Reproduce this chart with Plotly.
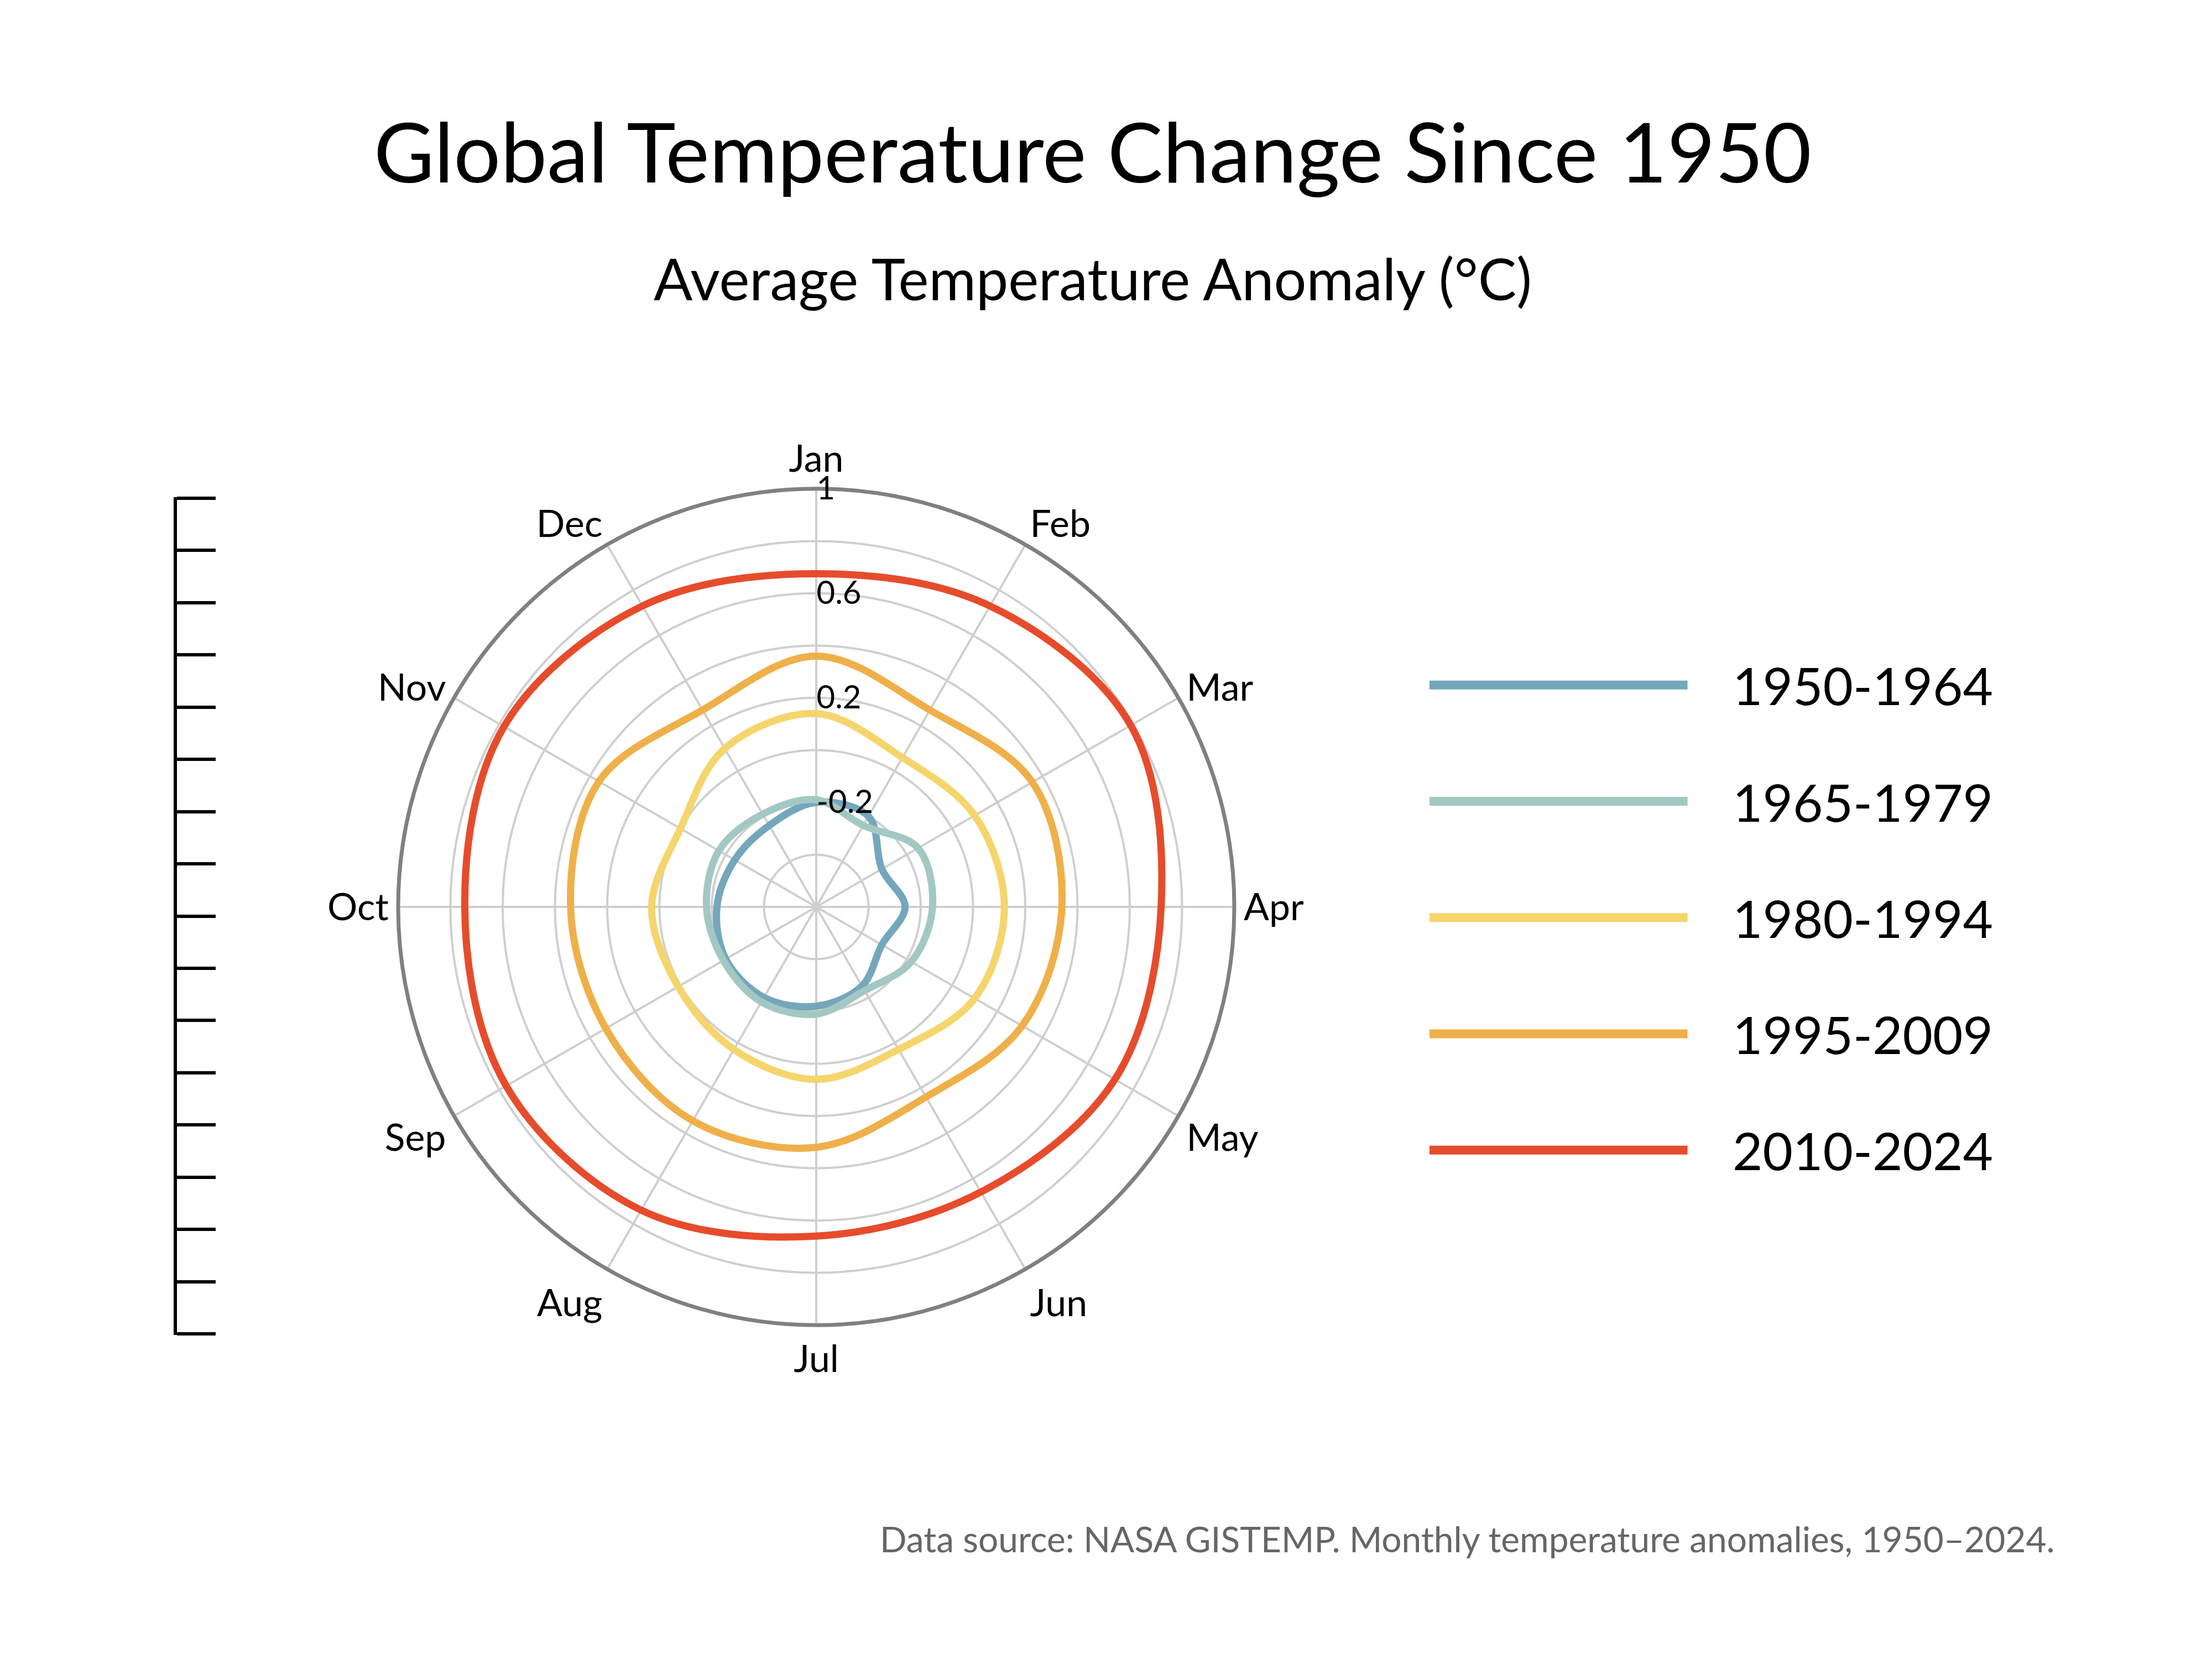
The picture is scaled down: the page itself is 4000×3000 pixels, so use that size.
import plotly.graph_objects as go

months = ["Jan", "Feb", "Mar", "Apr", "May", "Jun", "Jul", "Aug", "Sep", "Oct", "Nov", "Dec"]
periods = ["1950-1964", "1965-1979", "1980-1994", "1995-2009", "2010-2024"]
colors = ["#74a7bb", "#a3c8c4", "#f5d56c", "#efb04a", "#e64c2c"]

anom_1950 = [-0.20, -0.20, -0.31, -0.26, -0.31, -0.25, -0.22, -0.20, -0.20, -0.22, -0.24, -0.24]
anom_1965 = [-0.19, -0.24, -0.15, -0.155, -0.18, -0.23, -0.19, -0.18, -0.19, -0.18, -0.17, -0.19]
anom_1980 = [0.14, 0.06, 0.10, 0.12, 0.10, 0.03, 0.06, 0.03, 0.01, 0.03, 0.00, 0.10]
anom_1995 = [0.36, 0.27, 0.355, 0.34, 0.31, 0.24, 0.32, 0.345, 0.33, 0.34, 0.36, 0.27]
anom_2010 = [0.675, 0.73, 0.79, 0.72, 0.72, 0.66, 0.66, 0.74, 0.77, 0.745, 0.78, 0.73]
series = [anom_1950, anom_1965, anom_1980, anom_1995, anom_2010]

radial_vals = [-0.6, -0.4, -0.2, 0, 0.2, 0.4, 0.6, 0.8, 1.0]
radial_text = ["", "", "-0.2", "", "0.2", "", "0.6", "", "1"]

FONT = "Lato"
fig = go.Figure()

for name, vals, col in zip(periods, series, colors):
    fig.add_trace(go.Scatterpolar(
        r=vals + vals[:1], theta=months + months[:1], mode="lines",
        line=dict(color=col, width=13, shape="spline"), name=name, showlegend=False))

# leftover bare axis on the left
fig.add_trace(go.Scatter(x=[0], y=[0], mode="markers", marker=dict(opacity=0),
                         showlegend=False, hoverinfo="skip"))

fig.update_layout(
    width=4000, height=3000,
    paper_bgcolor="white", plot_bgcolor="white",
    font=dict(family=FONT, color="black"),
    margin=dict(l=0, r=0, t=0, b=0),
    polar=dict(
        domain=dict(x=[0.178, 0.556], y=[0.204, 0.708]),
        bgcolor="white",
        angularaxis=dict(rotation=90, direction="clockwise", categoryorder="array",
                         categoryarray=months, linecolor="#808080", linewidth=7,
                         gridcolor="#cfcfcf", gridwidth=4, ticks="",
                         tickfont=dict(size=68, family=FONT)),
        radialaxis=dict(range=[-0.6, 1.0], tickvals=radial_vals, ticktext=radial_text,
                        angle=90, tickangle=90, showline=False, ticks="",
                        gridcolor="#cfcfcf", gridwidth=4,
                        tickfont=dict(size=58, family=FONT)),
    ),
    xaxis=dict(domain=[0.078, 0.1], visible=False, range=[0, 1]),
    yaxis=dict(domain=[0.198, 0.703], range=[-0.02, 16.02], tick0=0, dtick=1, showline=True,
               linecolor="black", linewidth=6, ticks="inside", ticklen=70,
               tickwidth=6, tickcolor="black", showticklabels=False,
               showgrid=False, zeroline=False),
)

fig.add_annotation(text="Global Temperature Change Since 1950", x=0.492, y=1 - 103 / 1170,
                   xref="paper", yref="paper", yanchor="middle", showarrow=False,
                   font=dict(size=150))
fig.add_annotation(text="Average Temperature Anomaly (°C)", x=0.492, y=1 - 193 / 1170,
                   xref="paper", yref="paper", yanchor="middle", showarrow=False,
                   font=dict(size=104))
fig.add_annotation(text="Data source: NASA GISTEMP. Monthly temperature anomalies, 1950–2024.",
                   x=1447 / 1560, y=1 - 1082 / 1170, xref="paper", yref="paper",
                   xanchor="right", yanchor="middle", showarrow=False,
                   font=dict(size=64, color="#666666"))

# legend drawn by hand to get long swatches
for i, (name, col) in enumerate(zip(periods, colors)):
    yy = 1 - (480 + 82 * i) / 1170
    fig.add_shape(type="line", xref="paper", yref="paper", x0=1005 / 1560, x1=1187 / 1560,
                  y0=yy, y1=yy, line=dict(color=col, width=16))
    fig.add_annotation(text=name, x=1218 / 1560, y=yy, xref="paper", yref="paper",
                       xanchor="left", yanchor="middle", showarrow=False,
                       font=dict(size=94))

fig.write_html("out.html")
